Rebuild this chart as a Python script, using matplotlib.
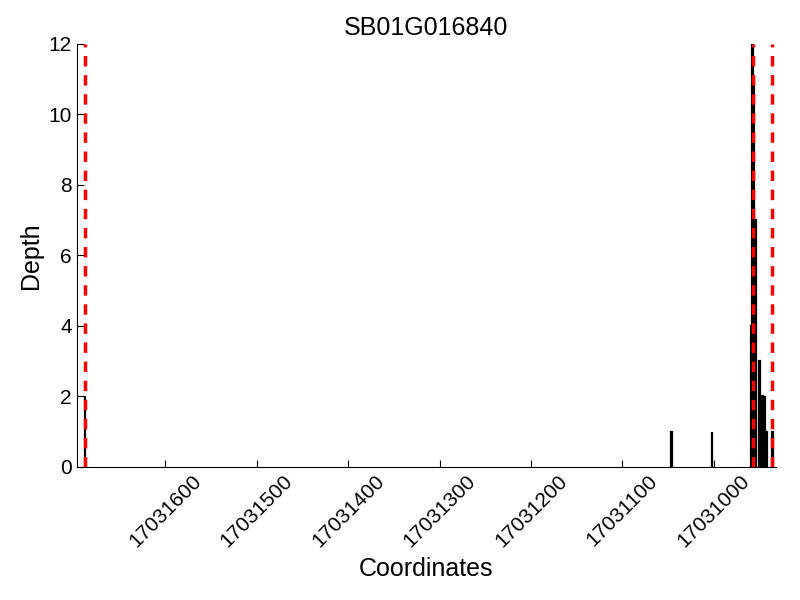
import matplotlib
matplotlib.use("Agg")
import matplotlib.pyplot as plt

plt.rcParams['font.family'] = ['Liberation Sans', 'DejaVu Sans']

gene = "SB01G016840"
positions = [17031688, 17031046, 17031002, 17030959, 17030958, 17030957,
             17030954, 17030950, 17030947, 17030944, 17030942, 17030936]
depths = [2, 1, 1, 4, 12, 11, 7, 3, 2, 2, 1, 1]
boundaries = [17031688, 17030957, 17030936]
xticks = [17031600, 17031500, 17031400, 17031300, 17031200, 17031100, 17031000]

fig = plt.figure(figsize=(8, 6), dpi=100)
ax = fig.add_axes([0.096, 0.222, 0.874, 0.705])

ax.bar(positions, depths, width=1, color='black', edgecolor='black', linewidth=1.6)
for b in boundaries:
    ax.axvline(b, color='red', linestyle='--', linewidth=2.5, dashes=(3, 2.5), zorder=5)

ax.set_xlim(17031697, 17030932)
ax.set_ylim(0, 12)
ax.set_xticks(xticks)
ax.set_xticklabels([str(t) for t in xticks], rotation=45)
ax.set_yticks(range(0, 13, 2))
ax.tick_params(direction='in', labelsize=15, length=5)
ax.spines['top'].set_visible(False)
ax.spines['right'].set_visible(False)
ax.set_xlabel("Coordinates", fontsize=18)
ax.set_ylabel("Depth", fontsize=18)
ax.set_title(gene, fontsize=18)

plt.savefig("out.png")
